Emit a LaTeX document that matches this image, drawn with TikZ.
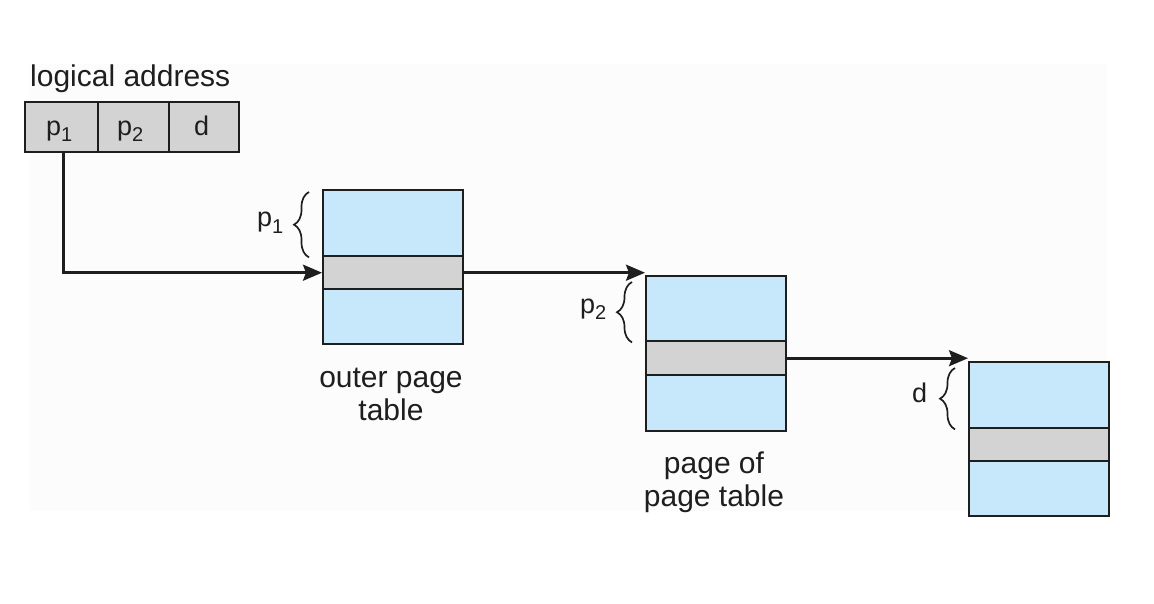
\documentclass[tikz,border=0pt]{standalone}
\usepackage{fontspec}
\setmainfont{Liberation Sans}
\usetikzlibrary{arrows.meta,decorations.pathreplacing}
\definecolor{tblue}{RGB}{199,232,250}
\definecolor{tgray}{RGB}{211,211,211}
\definecolor{ink}{RGB}{30,30,30}
\definecolor{bgfaint}{RGB}{252,252,252}
\newcommand{\psubscr}[1]{p\raisebox{-6pt}{\fontsize{20}{20}\selectfont #1}}
\begin{document}
\begin{tikzpicture}[x=1pt,y=-1pt,
  big/.style={font=\fontsize{30}{33}\selectfont, text=ink, inner sep=0pt, align=center},
  small/.style={font=\fontsize{27}{28}\selectfont, text=ink, inner sep=0pt, anchor=base west},
  cell/.style={draw=ink, line width=2.4pt, fill=tgray, inner sep=0pt, anchor=north west, minimum height=50pt},
  part/.style={draw=ink, line width=2.4pt, inner sep=0pt, anchor=north west, minimum width=140pt},
  bluepart/.style={part, fill=tblue},
  graypart/.style={part, fill=tgray, minimum height=33pt},
  arr/.style={draw=ink, line width=2.6pt, -{Stealth[length=19pt,width=16pt,inset=3pt]}},
  brc/.style={draw=ink, line width=1.7pt, decorate, decoration={brace, amplitude=15pt, aspect=0.5}}
]
\useasboundingbox (0,0) rectangle (1154,604);
\fill[bgfaint] (30,64) rectangle (1107,511);

% logical address
\node[big, anchor=base west] (la) at (30,87) {logical address};
\node[cell, minimum width=73pt] (c1) at (24,101) {};
\node[cell, minimum width=71pt] (c2) at (97,101) {};
\node[cell, minimum width=70pt] (c3) at (168,101) {};
\node[small] (c1t) at (46,136) {\psubscr{1}};
\node[small] (c2t) at (117,136) {\psubscr{2}};
\node[small] (c3t) at (194,136) {d};

% outer page table
\node[bluepart, minimum height=66pt] (ot) at (322,189) {};
\node[graypart] (og) at (322,255) {};
\node[bluepart, minimum height=55pt] (ob) at (322,288) {};
\node[big] (otl) at (391,394) {outer page\\table};

% page of page table
\node[bluepart, minimum height=65pt] (pt) at (645,275) {};
\node[graypart, minimum height=34pt] (pg) at (645,340) {};
\node[bluepart, minimum height=56pt] (pb) at (645,374) {};
\node[big] (ptl) at (714,482) {page of\\page table};

% page
\node[bluepart, minimum height=66pt] (dt) at (968,361) {};
\node[graypart, minimum height=33pt] (dg) at (968,427) {};
\node[bluepart, minimum height=55pt] (db) at (968,460) {};

% braces
\draw[brc] ([xshift=-13pt]ot.south west) -- ([xshift=-13pt,yshift=-3pt]ot.north west);
\draw[brc] ([xshift=-13pt]pt.south west) -- ([xshift=-13pt,yshift=-7pt]pt.north west);
\draw[brc] ([xshift=-13pt]dt.south west) -- ([xshift=-13pt,yshift=-7pt]dt.north west);
\node[small] (p1l) at (257,227) {\psubscr{1}};
\node[small] (p2l) at (580,313) {\psubscr{2}};
\node[small] (dl) at (912,402) {d};

% connectors
\draw[arr] ([xshift=1.5pt]c1.south) |- (og.west);
\draw[arr] (og.east) -- (og.east -| pt.north west);
\draw[arr] (pg.east) -- (pg.east -| dt.north west);
\end{tikzpicture}
\end{document}
